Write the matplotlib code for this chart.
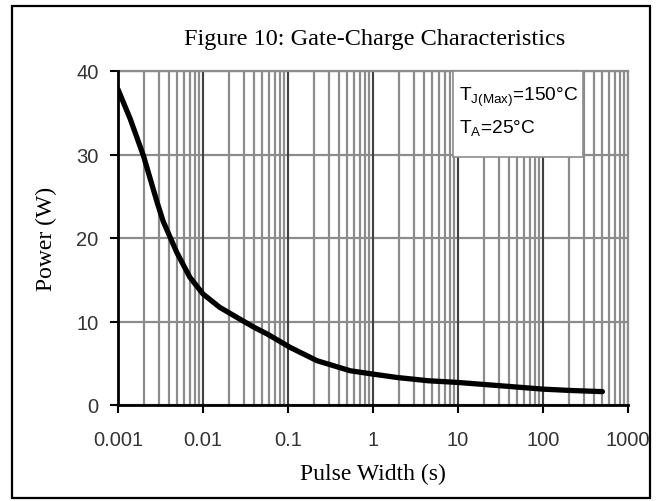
import matplotlib

matplotlib.use("Agg")
import matplotlib.pyplot as plt
from matplotlib.patches import Rectangle
from matplotlib.ticker import LogLocator, FixedLocator, NullFormatter

# values
pulse_width = [0.001, 0.0014, 0.002, 0.0029, 0.0034, 0.0049, 0.0070, 0.01,
               0.0157, 0.027, 0.04, 0.057, 0.106, 0.22, 0.54, 1.0, 1.9, 4.5,
               10.0, 32.0, 100.0, 200.0, 500.0]
power = [37.8, 34.2, 29.8, 24.2, 22.0, 18.3, 15.3, 13.3,
         11.7, 10.3, 9.3, 8.5, 6.9, 5.3, 4.1, 3.7, 3.3, 2.9,
         2.7, 2.3, 1.9, 1.75, 1.6]

x_ticks = [0.001, 0.01, 0.1, 1, 10, 100, 1000]
x_tick_labels = ["0.001", "0.01", "0.1", "1", "10", "100", "1000"]
y_ticks = [0, 10, 20, 30, 40]

SERIF = "Liberation Serif"
SANS = "Liberation Sans"
GRID = "#8c8c8c"

fig = plt.figure(figsize=(6.59, 5.02), dpi=100)
ax = fig.add_axes([118 / 659, 1 - 406 / 502, 510 / 659, 334 / 502])

ax.plot(pulse_width, power, color="black", lw=3.8, solid_capstyle="round",
        solid_joinstyle="round", zorder=4)

ax.set_xscale("log")
ax.set_xlim(0.001, 1000)
ax.set_ylim(0, 40)

ax.xaxis.set_major_locator(FixedLocator(x_ticks))
ax.set_xticklabels(x_tick_labels)
ax.xaxis.set_minor_locator(LogLocator(base=10, subs=range(2, 10), numticks=20))
ax.xaxis.set_minor_formatter(NullFormatter())
ax.set_yticks(y_ticks)

ax.grid(True, which="major", axis="y", color=GRID, lw=1.6)
ax.grid(True, which="both", axis="x", color=GRID, lw=1.6)
ax.set_axisbelow(True)
for xt in x_ticks[1:-1]:
    ax.axvline(xt, color="#333333", lw=1.2, zorder=1)

for side in ("top", "right"):
    ax.spines[side].set_color(GRID)
    ax.spines[side].set_linewidth(1.6)
for side in ("left", "bottom"):
    ax.spines[side].set_linewidth(2)
    ax.spines[side].set_zorder(5)

ax.tick_params(axis="both", which="major", direction="out", length=6, width=1.5,
               labelsize=14.5, labelcolor="#333333")
ax.tick_params(axis="x", which="minor", length=0)
ax.tick_params(axis="x", pad=12)
ax.tick_params(axis="y", pad=8)
for lbl in ax.get_xticklabels() + ax.get_yticklabels():
    lbl.set_family(SANS)

ax.set_xlabel("Pulse Width (s)", family=SERIF, fontsize=17, labelpad=10)
ax.set_ylabel("Power (W)", family=SERIF, fontsize=17, labelpad=14)
fig.text(375 / 659, 1 - 40 / 502, "Figure 10: Gate-Charge Characteristics",
         family=SERIF, fontsize=17.5, ha="center", va="center")

# condition box
ax.add_patch(Rectangle((0.657, 0.743), 0.255, 0.257, transform=ax.transAxes,
                       facecolor="white", edgecolor=GRID, lw=1.2, zorder=3))
ax.text(0.668, 0.925, r"T$_{\mathregular{J(Max)}}$=150°C", transform=ax.transAxes,
        family=SANS, fontsize=13.8, va="center", zorder=6)
ax.text(0.668, 0.83, r"T$_{\mathregular{A}}$=25°C", transform=ax.transAxes,
        family=SANS, fontsize=13.8, va="center", zorder=6)

# outer frame
fig.patches.append(Rectangle((11.5 / 659, 3 / 502), (650 - 11.5) / 659,
                             (495 - 3) / 502, transform=fig.transFigure,
                             fill=False, edgecolor="black", lw=1.6))

fig.savefig("out.png", dpi=100)
